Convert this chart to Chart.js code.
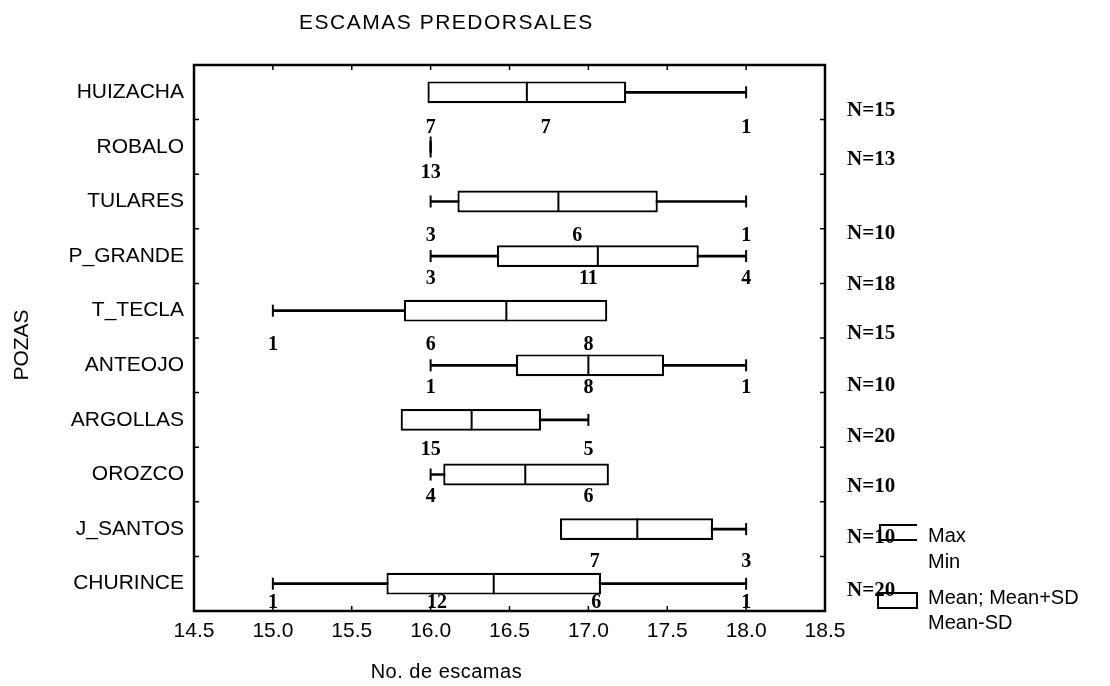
<!DOCTYPE html>
<html>
<head>
<meta charset="utf-8">
<script src="https://cdn.jsdelivr.net/npm/chart.js@4.4.1/dist/chart.umd.min.js"></script>
<style>
  html, body { margin: 0; padding: 0; background: #fff; }
  #wrap { width: 1110px; height: 686px; }
</style>
</head>
<body>
<div id="wrap"><canvas id="boxChart" width="1110" height="686"></canvas></div>
<script>
// values
const chartTitle = 'ESCAMAS PREDORSALES';
const xTitle = 'No. de escamas';
const yTitle = 'POZAS';
const categories = ['HUIZACHA', 'ROBALO', 'TULARES', 'P_GRANDE', 'T_TECLA', 'ANTEOJO', 'ARGOLLAS', 'OROZCO', 'J_SANTOS', 'CHURINCE'];
const meanValues = [16.61, 16.00, 16.81, 17.06, 16.48, 17.00, 16.26, 16.60, 17.31, 16.40];
const meanMinusSd = [15.98, 16.00, 16.17, 16.42, 15.83, 16.54, 15.81, 16.08, 16.82, 15.72];
const meanPlusSd = [17.24, 16.00, 17.44, 17.70, 17.12, 17.48, 16.70, 17.13, 17.79, 17.08];
const minValues = [16, 16, 16, 16, 15, 16, 16, 16, 17, 15];
const maxValues = [18, 16, 18, 18, 17, 18, 17, 17, 18, 18];
const nValues = [15, 13, 10, 18, 15, 10, 20, 10, 10, 20];
// frequency of each scale count, and where it is written
const countValues = [[7, 7, 1], [13], [3, 6, 1], [3, 11, 4], [1, 6, 8], [1, 8, 1], [15, 5], [4, 6], [7, 3], [1, 12, 6, 1]];
const countAt = [[16, 16.73, 18], [16], [16, 16.93, 18], [16, 17, 18], [15, 16, 17], [16, 17, 18], [16, 17], [16, 17], [17.04, 18], [15, 16.04, 17.05, 18]];
const xTicks = [14.5, 15.0, 15.5, 16.0, 16.5, 17.0, 17.5, 18.0, 18.5];
const legendLabels = ['Max', 'Min', 'Mean; Mean+SD', 'Mean-SD'];

// label offsets below each row (px)
const countShift = [36, 26, 34, 23, 34, 23, 30, 22, 33, 19];
const nShift = [18, 13, 32, 28, 23, 20, 17, 12, 8, 7];

const sans = '"Liberation Sans", Arial, sans-serif';
const serif = '"Liberation Serif", "Times New Roman", serif';

const decorPlugin = {
    id: 'decor',
    afterDatasetsDraw(chart) {
        const { ctx, chartArea: a, scales: { x, y } } = chart;
        ctx.save();
        ctx.strokeStyle = '#000';
        ctx.fillStyle = '#000';

        // frame
        ctx.lineWidth = 2.5;
        ctx.strokeRect(a.left, a.top, a.right - a.left, a.bottom - a.top);

        // small inward ticks
        ctx.lineWidth = 1.5;
        ctx.beginPath();
        xTicks.forEach(v => {
            const px = x.getPixelForValue(v);
            ctx.moveTo(px, a.top); ctx.lineTo(px, a.top + 5);
            ctx.moveTo(px, a.bottom); ctx.lineTo(px, a.bottom - 5);
        });
        for (let i = 0; i <= categories.length; i++) {
            const py = y.getPixelForValue(i - 0.5);
            ctx.moveTo(a.left, py); ctx.lineTo(a.left + 5, py);
            ctx.moveTo(a.right, py); ctx.lineTo(a.right - 5, py);
        }
        ctx.stroke();

        // counts under the boxes
        ctx.font = 'bold 20px ' + serif;
        ctx.textAlign = 'center';
        ctx.textBaseline = 'middle';
        categories.forEach((c, i) => {
            const py = y.getPixelForValue(i) + countShift[i];
            countValues[i].forEach((n, j) => {
                ctx.fillText(String(n), x.getPixelForValue(countAt[i][j]), py);
            });
        });

        // N= on the right
        ctx.font = 'bold 21px ' + serif;
        ctx.textAlign = 'left';
        categories.forEach((c, i) => {
            ctx.fillText('N=' + nValues[i], a.right + 22, y.getPixelForValue(i) + nShift[i]);
        });

        // titles
        const cx = a.left + 0.4 * (a.right - a.left);
        ctx.font = '21px ' + sans;
        ctx.textAlign = 'center';
        ctx.letterSpacing = '1.5px';
        ctx.fillText(chartTitle, cx, 23);
        ctx.font = '20px ' + sans;
        ctx.letterSpacing = '0.5px';
        ctx.fillText(xTitle, cx, a.bottom + 61);
        ctx.letterSpacing = '0px';
        ctx.save();
        ctx.translate(22, (a.top + a.bottom) / 2 + 7);
        ctx.rotate(-Math.PI / 2);
        ctx.font = '21px ' + sans;
        ctx.fillText(yTitle, 0, 0);
        ctx.restore();

        // legend
        const lx = a.right + 55;
        ctx.lineWidth = 2;
        ctx.beginPath();
        ctx.moveTo(lx + 37, a.bottom - 86);
        ctx.lineTo(lx, a.bottom - 86);
        ctx.lineTo(lx, a.bottom - 71);
        ctx.lineTo(lx + 37, a.bottom - 71);
        ctx.stroke();
        ctx.strokeRect(lx - 2, a.bottom - 18, 39, 15);
        ctx.font = '20px ' + sans;
        ctx.textAlign = 'left';
        const ly = [a.bottom - 75, a.bottom - 49, a.bottom - 13, a.bottom + 12];
        legendLabels.forEach((t, i) => ctx.fillText(t, a.right + 103, ly[i]));

        ctx.restore();
    }
};

new Chart(document.getElementById('boxChart'), {
    type: 'bar',
    data: {
        labels: categories,
        datasets: [
            {
                // mean line
                type: 'scatter',
                data: categories.map((c, i) => ({ x: meanValues[i], y: c })),
                pointStyle: 'line',
                rotation: 90,
                pointRadius: 10.5,
                borderColor: '#000',
                borderWidth: 2,
                order: 0
            },
            {
                // Mean-SD .. Mean+SD box
                data: categories.map((c, i) => [meanMinusSd[i], meanPlusSd[i]]),
                backgroundColor: '#fff',
                borderColor: '#000',
                borderWidth: 2.2,
                borderSkipped: false,
                barPercentage: 0.4,
                categoryPercentage: 1,
                grouped: false,
                order: 1
            },
            {
                // whisker caps at min and max
                type: 'scatter',
                data: categories.flatMap((c, i) => [{ x: minValues[i], y: c }, { x: maxValues[i], y: c }]),
                pointStyle: 'line',
                rotation: 90,
                pointRadius: 6,
                borderColor: '#000',
                borderWidth: 2,
                order: 2
            },
            {
                // whisker line
                data: categories.map((c, i) => [minValues[i], maxValues[i]]),
                backgroundColor: '#000',
                borderWidth: 0,
                barThickness: 2,
                grouped: false,
                order: 3
            }
        ]
    },
    options: {
        indexAxis: 'y',
        responsive: false,
        animation: false,
        events: [],
        layout: { padding: { left: 0, right: 285, top: 65, bottom: 0 } },
        plugins: {
            legend: { display: false },
            tooltip: { enabled: false }
        },
        scales: {
            x: {
                type: 'linear',
                min: 14.5,
                max: 18.5,
                afterBuildTicks: scale => { scale.ticks = xTicks.map(v => ({ value: v })); },
                afterFit: scale => { scale.height = 75; },
                grid: { display: false, drawTicks: false },
                border: { display: false },
                ticks: {
                    callback: v => Number(v).toFixed(1),
                    color: '#000',
                    padding: 8,
                    maxRotation: 0,
                    font: { family: sans, size: 21 }
                }
            },
            y: {
                type: 'category',
                afterFit: scale => { scale.width = 194; },
                grid: { display: false, drawTicks: false },
                border: { display: false },
                ticks: {
                    color: '#000',
                    padding: 10,
                    font: { family: sans, size: 21 }
                }
            }
        }
    },
    plugins: [decorPlugin]
});
</script>
</body>
</html>
